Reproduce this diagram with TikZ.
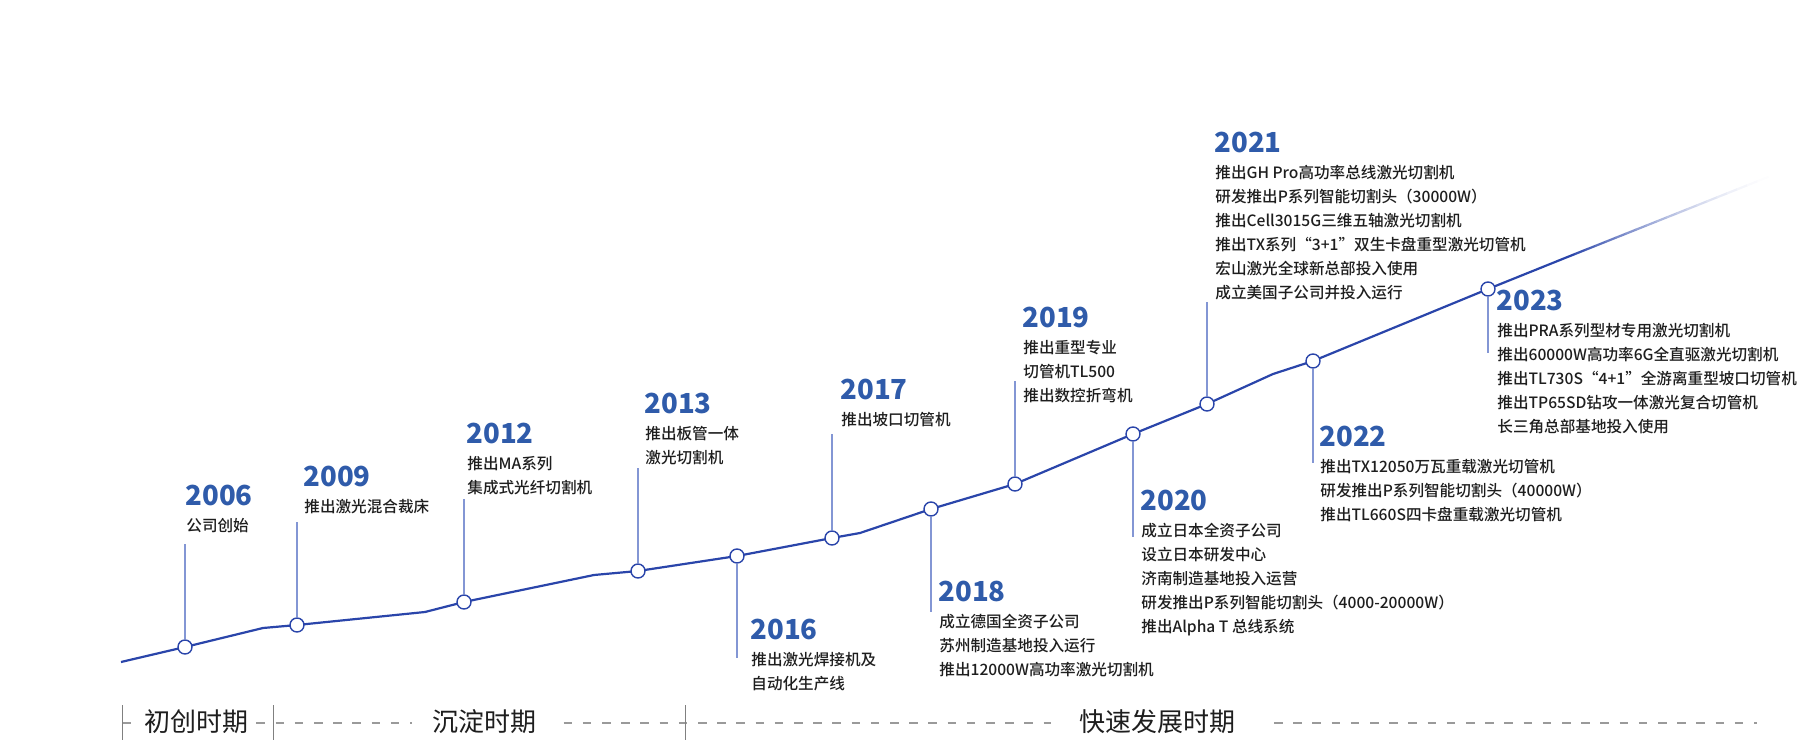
\documentclass[tikz,border=0pt]{standalone}
\usepackage{fontspec}
\setmainfont{Noto Sans CJK SC}
\newfontfamily\descfont{Noto Sans CJK SC Medium}
\usepackage{tikz}
\usetikzlibrary{positioning,calc}
\definecolor{lineblue}{HTML}{2A45AA}
\definecolor{yearblue}{HTML}{2F5BAA}
\definecolor{stemblue}{HTML}{8396D4}
\definecolor{dashgray}{HTML}{9A9A9A}
\definecolor{inkgray}{HTML}{1E1E1E}

\begin{document}
\begin{tikzpicture}[x=0.5pt, y=-0.5pt,
    mainline/.style={draw=lineblue, line width=1.1pt, line join=round},
    dot/.style={circle, draw=lineblue, fill=white, line width=0.7pt, minimum size=7pt, inner sep=0pt},
    stem/.style={draw=stemblue, line width=0.75pt},
    yr/.style={anchor=base west, inner sep=0pt, font=\fontsize{13.8}{16}\selectfont\bfseries, text=yearblue},
    desc/.style={anchor=north west, inner sep=0pt, align=left, font=\descfont\fontsize{7.8}{12}\selectfont, text=inkgray},
    eradash/.style={draw=dashgray, line width=0.8pt, dash pattern=on 4.3pt off 5.3pt},
    eratick/.style={draw=gray, line width=0.5pt},
    era/.style={font=\fontsize{13}{15}\selectfont, text=inkgray, fill=white, inner xsep=10pt, inner ysep=1pt}]
    \useasboundingbox (0,0) rectangle (1800,750);

    % Timeline points
    \coordinate (p0) at (121,662);
    \coordinate (p2006) at (185,647);
    \coordinate (k1) at (263,628);
    \coordinate (p2009) at (297,625);
    \coordinate (k2) at (425,612);
    \coordinate (p2012) at (464,602);
    \coordinate (k3) at (594,575);
    \coordinate (p2013) at (638,571);
    \coordinate (p2016) at (737,556);
    \coordinate (p2017) at (832,538);
    \coordinate (k4) at (860,533);
    \coordinate (p2018) at (931,509);
    \coordinate (p2019) at (1015,484);
    \coordinate (p2020) at (1133,434);
    \coordinate (p2021) at (1207,404);
    \coordinate (k5) at (1273,374);
    \coordinate (p2022) at (1313,361);
    \coordinate (p2023) at (1488,289);
    \coordinate (fade) at (1565,258);
    \coordinate (lineend) at (1768,177);

    % Growth line
    \draw[mainline] (p0) -- (p2006) -- (k1) -- (p2009) -- (k2) -- (p2012) -- (k3) -- (p2013)
        -- (p2016) -- (p2017) -- (k4) -- (p2018) -- (p2019) -- (p2020) -- (p2021) -- (k5)
        -- (p2022) -- (p2023) -- (fade);
    % Fading tail
    \foreach \i [evaluate=\i as \j using {\i+1}, evaluate=\i as \shade using {100*(1-\i/20)^1.6}] in {0,...,19}
        \draw[line width=1.1pt, line cap=round, lineblue!\shade] ($(fade)!\i/20!(lineend)$) -- ($(fade)!\j/20!(lineend)$);

    % Milestone dots
    \foreach \yr in {2006,2009,2012,2013,2016,2017,2018,2019,2020,2021,2022,2023}
        \node[dot] (c\yr) at (p\yr) {};

    % Stem ends
    \coordinate (s2006) at (185,544);
    \coordinate (s2009) at (297,522);
    \coordinate (s2012) at (464,499);
    \coordinate (s2013) at (638,468);
    \coordinate (s2016) at (737,658);
    \coordinate (s2017) at (832,434);
    \coordinate (s2018) at (931,612);
    \coordinate (s2019) at (1015,381);
    \coordinate (s2020) at (1133,537);
    \coordinate (s2021) at (1207,302);
    \coordinate (s2022) at (1313,463);
    \coordinate (s2023) at (1488,353);
    \foreach \yr in {2006,2009,2012,2013,2016,2017,2018,2019,2020,2021,2022,2023}
        \draw[stem] (c\yr) -- (s\yr);

    % 2006 - 2013
    \node[yr] (y2006) at (185,505) {2006};
    \node[desc] (d2006) at (186,518) {公司创始};
    \node[yr] (y2009) at (303,486) {2009};
    \node[desc] (d2009) at (304,499) {推出激光混合裁床};
    \node[yr] (y2012) at (466,443) {2012};
    \node[desc] (d2012) at (467,456) {推出MA系列\\集成式光纤切割机};
    \node[yr] (y2013) at (644,413) {2013};
    \node[desc] (d2013) at (645,426) {推出板管一体\\激光切割机};

    % 2016 - 2019
    \node[yr] (y2016) at (750,639) {2016};
    \node[desc] (d2016) at (751,652) {推出激光焊接机及\\自动化生产线};
    \node[yr] (y2017) at (840,399) {2017};
    \node[desc] (d2017) at (841,412) {推出坡口切管机};
    \node[yr] (y2018) at (938,601) {2018};
    \node[desc] (d2018) at (939,614) {成立德国全资子公司\\苏州制造基地投入运行\\推出12000W高功率激光切割机};
    \node[yr] (y2019) at (1022,327) {2019};
    \node[desc] (d2019) at (1023,340) {推出重型专业\\切管机TL500\\推出数控折弯机};

    % 2020 - 2023
    \node[yr] (y2020) at (1140,510) {2020};
    \node[desc] (d2020) at (1141,523) {成立日本全资子公司\\设立日本研发中心\\济南制造基地投入运营\\研发推出P系列智能切割头（4000-20000W）\\推出Alpha T 总线系统};
    \node[yr] (y2021) at (1214,152) {2021};
    \node[desc] (d2021) at (1215,165) {推出GH Pro高功率总线激光切割机\\研发推出P系列智能切割头（30000W）\\推出Cell3015G三维五轴激光切割机\\推出TX系列“3+1”双生卡盘重型激光切管机\\宏山激光全球新总部投入使用\\成立美国子公司并投入运行};
    \node[yr] (y2022) at (1319,446) {2022};
    \node[desc] (d2022) at (1320,459) {推出TX12050万瓦重载激光切管机\\研发推出P系列智能切割头（40000W）\\推出TL660S四卡盘重载激光切管机};
    \node[yr] (y2023) at (1496,310) {2023};
    \node[desc] (d2023) at (1497,323) {推出PRA系列型材专用激光切割机\\推出60000W高功率6G全直驱激光切割机\\推出TL730S“4+1”全游离重型坡口切管机\\推出TP65SD钻攻一体激光复合切管机\\长三角总部基地投入使用};

    % Era bar
    \draw[eradash] (122,723) -- (1757,723);
    \draw[eratick] (122,705) -- (122,740);
    \draw[eratick] (273,705) -- (273,740);
    \draw[eratick] (685,705) -- (685,740);
    \node[era, inner xsep=4pt] (era1) at (196,722) {初创时期};
    \node[era] (era2) at (484,722) {沉淀时期};
    \node[era, inner xsep=14pt] (era3) at (1157,722) {快速发展时期};
\end{tikzpicture}
\end{document}
